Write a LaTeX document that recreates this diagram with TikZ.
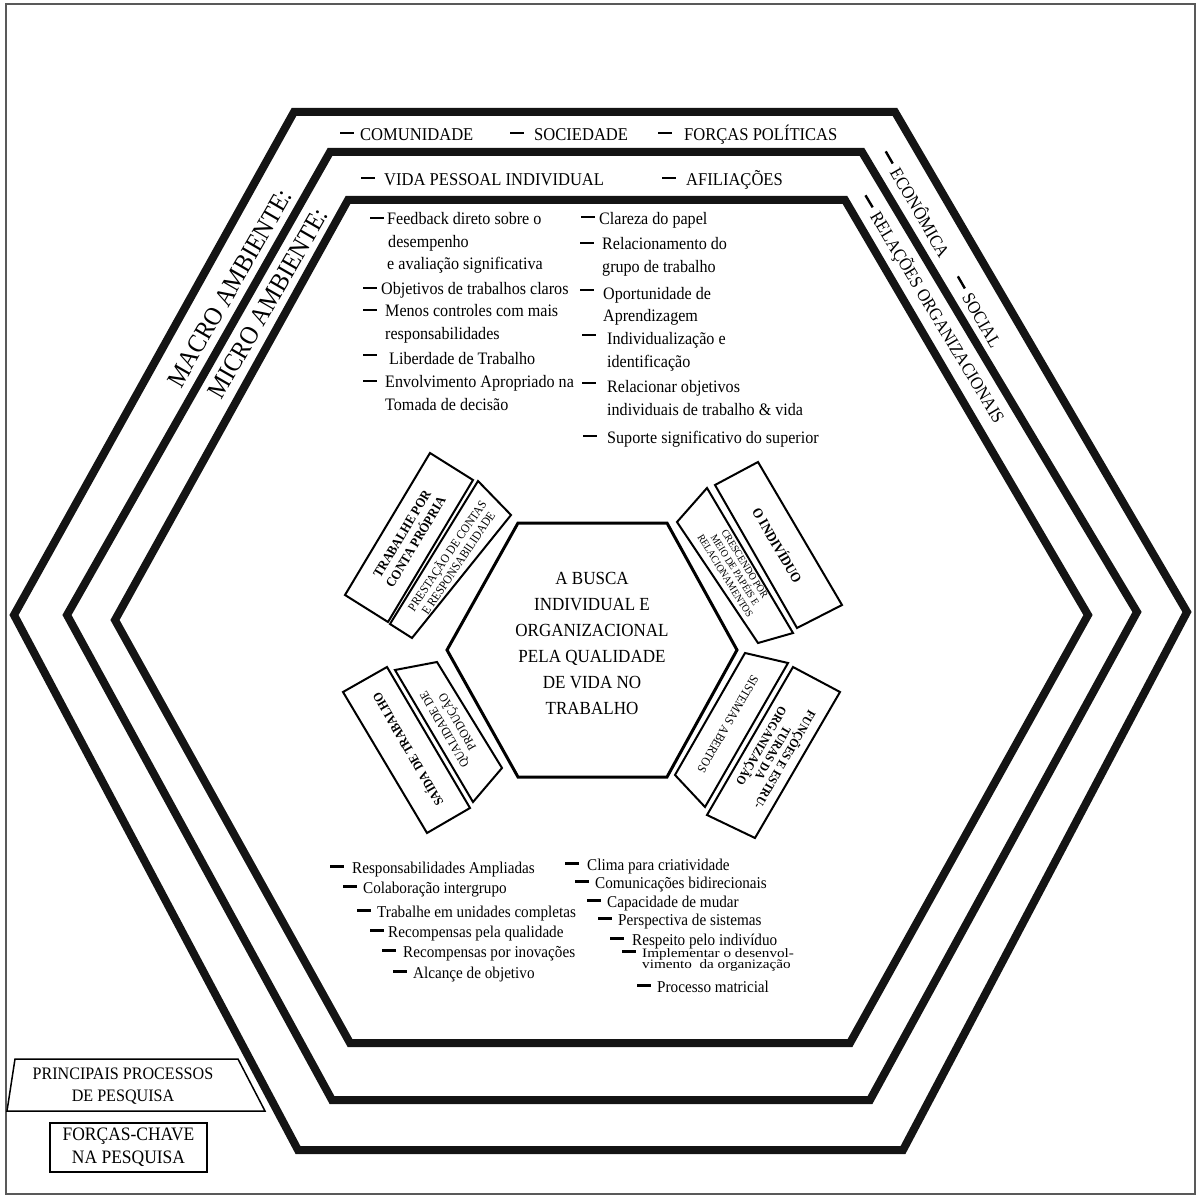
\documentclass[tikz,border=0pt]{standalone}
\usepackage{graphicx}
\usepackage{fontspec}
\setmainfont{Liberation Serif}[FakeStretch=0.92]
\newcommand\setfs[2]{\fontsize{#1pt}{#2pt}\selectfont}
% thick list dash; optional argument = raise above the baseline
\newcommand\dsh[1][6]{\rule[#1pt]{14pt}{2.4pt}}
% vertically squeezed line of text
\newcommand\squeezed[1]{\scalebox{1}[0.78]{#1}}
\begin{document}
\begin{tikzpicture}[x=1pt,y=-1pt,
  hexband/.style={line width=8pt, line join=miter, black!92},
  corehex/.style={line width=3pt, line join=miter},
  boxline/.style={line width=2pt, line join=miter},
  pageframe/.style={line width=1.2pt, black!65},
  lsttxt/.style={anchor=base west, inner sep=0pt, font=\setfs{17.5}{21}},
  lstb/.style={anchor=base west, inner sep=0pt, font=\setfs{16.5}{19}},
  bandtxt/.style={anchor=base west, inner sep=0pt, font=\setfs{18}{21}},
  sidetxt/.style={anchor=west, inner sep=0pt, font=\setfs{18}{21}},
  envtxt/.style={inner sep=0pt, font=\setfs{26}{30}, rotate=60},
  boxtxt/.style={inner sep=0pt, align=center},
]
\useasboundingbox (0,0) rectangle (1200,1198);
\draw[pageframe] (6,4) rectangle (1195,1194);

% nested environment hexagons
\draw[hexband] (294,112) -- (895,112) -- (1187,612) -- (903,1150) -- (298,1150) -- (14,615) -- cycle;
\draw[hexband] (330,152) -- (862,152) -- (1137,612) -- (870,1100) -- (332,1100) -- (67,615) -- cycle;
\draw[hexband] (348,200) -- (845,200) -- (1088,615) -- (850,1043) -- (350,1043) -- (115,620) -- cycle;

% central hexagon
\draw[corehex] (518,523) -- (667,523) -- (737,650) -- (667,777) -- (518,777) -- (447,650) -- cycle;
\node[boxtxt, font=\setfs{18.5}{26}] (core) at (592,643)
  {A BUSCA\\INDIVIDUAL E\\ORGANIZACIONAL\\PELA QUALIDADE\\DE VIDA NO\\TRABALHO};

% macro / micro environment labels
\node[envtxt] (macro) at (230,288) {MACRO AMBIENTE:};
\node[envtxt] (micro) at (268,303) {MICRO AMBIENTE:};

% macro band
\node[bandtxt] (comunidade) at (340,141) {\dsh[7]\hspace{6pt}COMUNIDADE};
\node[bandtxt] (sociedade) at (510,141) {\dsh[7]\hspace{10pt}SOCIEDADE};
\node[bandtxt] (forcaspol) at (658,141) {\dsh[7]\hspace{12pt}FORÇAS POLÍTICAS};
\node[sidetxt, rotate=-60] (economica) at (886,151)
  {\dsh[6]\hspace{6pt}ECONÔMICA\hspace{24pt}\dsh[6]\hspace{6pt}SOCIAL};

% micro band
\node[bandtxt] (vidapessoal) at (361,186) {\dsh[7]\hspace{9pt}VIDA PESSOAL INDIVIDUAL};
\node[bandtxt] (afiliacoes) at (662,186) {\dsh[7]\hspace{10pt}AFILIAÇÕES};
\node[sidetxt, rotate=-59] (relorg) at (864,196)
  {\dsh[6]\hspace{6pt}RELAÇÕES ORGANIZACIONAIS};

% upper lists
\node[lsttxt] (l1) at (370,225) {\dsh\hspace{3pt}Feedback direto sobre o};
\node[lsttxt] (l1b) at (388,248) {desempenho};
\node[lsttxt] (l1c) at (387,270) {e avaliação significativa};
\node[lsttxt] (l2) at (363,295) {\dsh\hspace{4pt}Objetivos de trabalhos claros};
\node[lsttxt] (l3) at (363,317) {\dsh\hspace{8pt}Menos controles com mais};
\node[lsttxt] (l3b) at (385,340) {responsabilidades};
\node[lsttxt] (l4) at (363,365) {\dsh[9]\hspace{12pt}Liberdade de Trabalho};
\node[lsttxt] (l5) at (363,388) {\dsh\hspace{8pt}Envolvimento Apropriado na};
\node[lsttxt] (l5b) at (385,410) {Tomada de decisão};

\node[lsttxt] (r1) at (581,225) {\dsh[7]\hspace{4pt}Clareza do papel};
\node[lsttxt] (r2) at (580,250) {\dsh\hspace{8pt}Relacionamento do};
\node[lsttxt] (r2b) at (602,273) {grupo de trabalho};
\node[lsttxt] (r3) at (580,300) {\dsh[9]\hspace{9pt}Oportunidade de};
\node[lsttxt] (r3b) at (603,322) {Aprendizagem};
\node[lsttxt] (r4) at (582,345) {\dsh[9]\hspace{11pt}Individualização e};
\node[lsttxt] (r4b) at (607,367) {identificação};
\node[lsttxt] (r5) at (582,392) {\dsh[8]\hspace{11pt}Relacionar objetivos};
\node[lsttxt] (r5b) at (607,415) {individuais de trabalho \& vida};
\node[lsttxt] (r6) at (583,443) {\dsh\hspace{10pt}Suporte significativo do superior};

% box pairs around the central hexagon
\draw[boxline] (430,453) -- (473,480) -- (388,622) -- (345,595) -- cycle;
\draw[boxline] (478,481) -- (511,515) -- (412,638) -- (390,624) -- cycle;
\node[boxtxt, font=\bfseries\setfs{13.5}{16}, rotate=59] (ownwork) at (409,538) {TRABALHE POR\\CONTA PRÓPRIA};
\node[boxtxt, font=\setfs{12.3}{13.5}, rotate=56] (account) at (452,559) {PRESTAÇÃO DE CONTAS\\E RESPONSABILIDADE};

\draw[boxline] (715,485) -- (758,462) -- (842,605) -- (797,628) -- cycle;
\draw[boxline] (677,522) -- (707,488) -- (793,633) -- (758,643) -- cycle;
\node[boxtxt, font=\bfseries\setfs{14}{16}, rotate=-60] (person) at (778,545) {O INDIVÍDUO};
\node[boxtxt, font=\setfs{10.5}{11.5}, rotate=-58] (growing) at (735,570) {CRESCENDO POR\\MEIO DE PAPÉIS E\\RELACIONAMENTOS};

\draw[boxline] (343,692) -- (387,667) -- (470,808) -- (427,833) -- cycle;
\draw[boxline] (395,670) -- (437,662) -- (502,768) -- (473,802) -- cycle;
\node[boxtxt, font=\bfseries\setfs{13}{16}, rotate=120] (output) at (407,750) {SAÍDA DE TRABALHO};
\node[boxtxt, font=\setfs{12.5}{15}, rotate=120] (quality) at (452,725) {QUALIDADE DE\\PRODUÇÃO};

\draw[boxline] (745,653) -- (788,663) -- (705,807) -- (675,775) -- cycle;
\draw[boxline] (793,667) -- (840,692) -- (755,838) -- (707,815) -- cycle;
\node[boxtxt, font=\setfs{12.5}{15}, rotate=-120] (opensys) at (728,724) {SISTEMAS ABERTOS};
\node[boxtxt, font=\bfseries\setfs{12.5}{13.5}, rotate=-120] (structure) at (773,753) {FUNÇÕES E ESTRU-\\TURAS DA\\ORGANIZAÇÃO};

% lower lists
\node[lstb] (b1) at (330,873) {\dsh[5.5]\hspace{8pt}Responsabilidades Ampliadas};
\node[lstb] (b2) at (343,893) {\dsh[5.5]\hspace{6pt}Colaboração intergrupo};
\node[lstb] (b3) at (357,917) {\dsh[5.5]\hspace{6pt}Trabalhe em unidades completas};
\node[lstb] (b4) at (370,937) {\dsh[5.5]\hspace{4pt}Recompensas pela qualidade};
\node[lstb] (b5) at (382,957) {\dsh[5.5]\hspace{7pt}Recompensas por inovações};
\node[lstb] (b6) at (393,978) {\dsh[5.5]\hspace{6pt}Alcançe de objetivo};

\node[lstb] (c1) at (565,870) {\dsh[5.5]\hspace{8pt}Clima para criatividade};
\node[lstb] (c2) at (575,888) {\dsh[5.5]\hspace{6pt}Comunicações bidirecionais};
\node[lstb] (c3) at (587,907) {\dsh[5.5]\hspace{6pt}Capacidade de mudar};
\node[lstb] (c4) at (598,925) {\dsh[5.5]\hspace{6pt}Perspectiva de sistemas};
\node[lstb] (c5) at (610,945) {\dsh[5.5]\hspace{8pt}Respeito pelo indivíduo};
\node[lstb] (c6) at (622,957) {\dsh[4.5]\hspace{6pt}\squeezed{Implementar o desenvol-}};
\node[lstb] (c6b) at (642,968) {\squeezed{vimento\ \ da organização}};
\node[lstb] (c7) at (637,992) {\dsh[5.5]\hspace{6pt}Processo matricial};

% key
\draw[boxline, line width=1.5pt] (15,1059) -- (238,1059) -- (265,1111) -- (7,1111) -- cycle;
\node[boxtxt, font=\setfs{17.5}{22}] (processes) at (123,1086) {PRINCIPAIS PROCESSOS\\DE PESQUISA};
\node[draw, line width=1.5pt, minimum width=157pt, minimum height=49pt, inner sep=0pt,
  align=center, font=\setfs{19}{23}] (forces) at (128.5,1147.5) {FORÇAS-CHAVE\\NA PESQUISA};
\end{tikzpicture}
\end{document}
